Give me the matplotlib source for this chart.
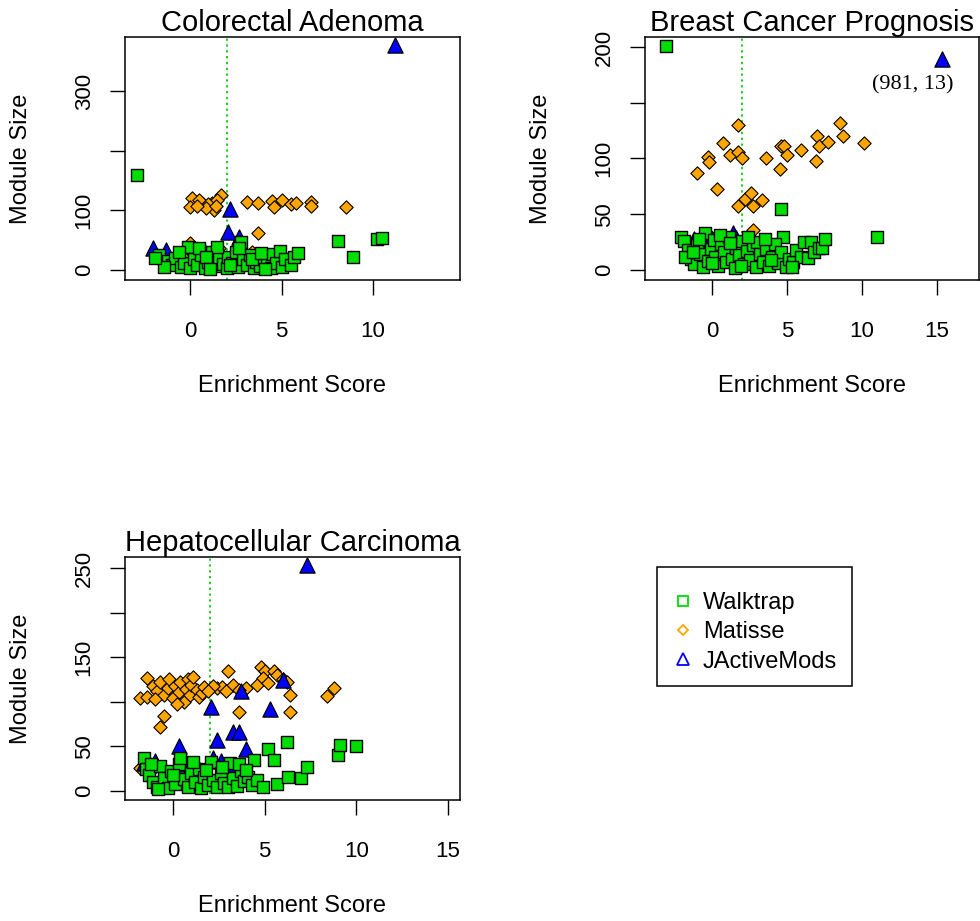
import matplotlib
matplotlib.use("Agg")
import matplotlib.pyplot as plt
from matplotlib.lines import Line2D
from matplotlib.patches import Rectangle

plt.rcParams['font.family'] = ['Liberation Sans', 'DejaVu Sans']

# ---- Colorectal Adenoma ----
ca_walk_x = [-2.9, 8.1, 8.9, 10.2, 10.5,
             -1.7, -1.2, -1.0, -0.8, -0.5, -0.3, -0.1, 0.0, 0.2, 0.4, 0.6, 0.8, 1.0, 1.2, 1.4,
             1.6, 1.8, 2.0, 2.1, 2.3, 2.5, 2.6, 2.8, 2.9, 3.1, 3.3, 3.5, 3.6, 3.8, 4.0, 4.2,
             4.4, 4.5, 4.7, 4.9, 5.0, 5.2, 5.5, 5.7, 5.9, -1.4, -0.6, 0.5, 1.5, 2.2, 2.7, 3.4,
             -1.9, 0.9, 4.1, 1.1, 3.9]
ca_walk_y = [159, 49, 22, 52, 54,
             25, 15, 8, 20, 5, 12, 39, 3, 18, 8, 25, 4, 14, 30, 6,
             20, 10, 3, 22, 12, 30, 5, 47, 18, 8, 25, 3, 14, 6, 20, 10,
             4, 26, 12, 32, 5, 18, 8, 22, 28, 5, 30, 36, 38, 8, 36, 18,
             20, 22, 2, 2, 28]
ca_mat_x = [0.1, 0.0, 0.65, 0.5, 1.2, 1.3, 1.7, 1.5, 1.0, 0.9, 3.1, 3.7, 4.5, 4.6, 5.0,
            5.5, 5.8, 6.6, 6.6, 8.5, 3.7, 0.0, 1.6, -0.3, 2.5, 3.4, 0.4, 1.4]
ca_mat_y = [121, 105, 112, 118, 112, 101, 126, 118, 110, 104, 114, 113, 115, 106, 118,
            110, 113, 114, 107, 106, 62, 45, 37, 20, 25, 30, 108, 108]
ca_jam_x = [11.2, 2.2, 2.1, 2.7, -2.0, -1.3, 0.8, 3.5, 4.6, 1.5, -0.5]
ca_jam_y = [377, 102, 64, 56, 37, 34, 30, 20, 15, 22, 15]

# ---- Breast Cancer Prognosis ----
bc_walk_x = [-3.1, 4.6, 4.7, 11.0,
             -2.1, -1.9, -1.6, -1.4, -1.2, -1.0, -0.8, -0.6, -0.5, -0.3, -0.1, 0.1, 0.2, 0.4,
             0.6, 0.8, 0.9, 1.1, 1.3, 1.5, 1.6, 1.8, 2.0, 2.1, 2.3, 2.5, 2.7, 2.9, 3.0, 3.2,
             3.4, 3.6, 3.8, 4.0, 4.2, 4.4, 4.6, 4.9, 5.1, 5.4, 5.6, 5.9, 6.1, 6.4, 6.6, 6.8,
             7.1, 7.3, 7.5, -1.8, -0.9, 0.5, 1.2, 2.4, 3.5, -1.3, 0.0, 1.9, 3.9, 5.3]
bc_walk_y = [201, 55, 30, 30,
             30, 26, 18, 10, 5, 22, 14, 3, 33, 8, 19, 27, 12, 4,
             23, 16, 7, 30, 10, 2, 20, 13, 26, 5, 17, 9, 22, 3, 25, 14,
             7, 19, 4, 12, 23, 6, 16, 3, 10, 7, 18, 12, 25, 11, 25, 16,
             20, 20, 28, 12, 28, 31, 24, 30, 28, 16, 6, 4, 9, 3]
bc_mat_x = [1.7, 0.7, -0.3, -0.2, -1.0, 0.3, 1.2, 1.7, 2.0, 3.6, 4.5, 4.6, 4.8, 5.0, 5.9,
            6.9, 7.0, 7.1, 7.7, 8.5, 8.7, 10.1, 1.7, 2.2, 2.6, 2.7, 3.3, 2.7,
            -1.4, -0.1, 0.2, 1.0]
bc_mat_y = [130, 114, 101, 97, 87, 73, 103, 106, 100, 100, 91, 111, 111, 103, 108,
            98, 120, 111, 115, 132, 120, 114, 57, 64, 69, 57, 63, 36,
            18, 30, 28, 25]
bc_jam_x = [15.3, -1.2, -0.1, 1.4, 1.6, -1.5, 0.8, 2.2, -0.5]
bc_jam_y = [189, 28, 29, 33, 29, 20, 24, 18, 15]
bc_note = "(981, 13)"

# ---- Hepatocellular Carcinoma ----
hc_walk_x = [-1.6, -1.5, -1.3, -1.1, -0.9, -0.7, -0.5, -0.3, -0.1, 0.1, 0.3, 0.4, 0.6, 0.8,
             1.0, 1.2, 1.4, 1.5, 1.7, 1.9, 2.1, 2.2, 2.4, 2.6, 2.8, 3.0, 3.1, 3.3, 3.5, 3.7,
             3.9, 4.1, 4.3, 4.4, 4.6, 4.9, 5.2, 5.5, 5.7, 6.2, 6.3, 7.0, 7.3, 9.0, 9.1, 10.0,
             -1.2, 0.0, 1.1, 2.7, 3.6, 4.0, -0.8, 1.8]
hc_walk_y = [37, 25, 18, 10, 5, 28, 15, 3, 22, 8, 30, 37, 14, 4,
             20, 10, 25, 3, 16, 7, 32, 12, 4, 20, 9, 4, 31, 15, 6, 22,
             11, 16, 7, 35, 12, 4, 47, 35, 8, 55, 16, 15, 27, 40, 52, 50,
             30, 18, 33, 27, 30, 24, 2, 23]
hc_mat_x = [-1.4, -1.8, -1.4, -0.5, -0.7, -1.1, -0.9, -0.7, -0.5, -0.3, -0.2, 0.0, 0.1, 0.3,
            0.4, 0.6, 0.7, 0.8, 0.9, 1.0, 1.1, 1.3, 1.4, -1.0, 0.2, 1.6, 1.7, 2.4, 2.7, 3.0,
            3.3, 4.0, 3.6, 4.6, 4.8, 5.0, 4.9, 5.5, 5.7, 6.0, 6.2, 6.4, 6.4, 8.4, 8.8, 2.2,
            3.6, 2.9, 5.2, 1.9, -1.8, -1.5, -1.3]
hc_mat_y = [127, 104, 105, 84, 72, 118, 112, 122, 108, 115, 125, 104, 118, 111,
            122, 100, 114, 126, 108, 119, 128, 113, 105, 103, 98, 110, 117, 115, 117, 135,
            119, 116, 89, 119, 139, 134, 127, 135, 130, 126, 122, 108, 89, 106, 116, 118,
            113, 112, 121, 112, 26, 35, 20]
hc_jam_x = [7.3, 2.1, 5.3, 6.0, 3.7, 3.3, 3.6, 2.4, 0.3, 4.0, -1.0, -1.6, 2.2, 2.6, 1.0,
            1.4, 3.2, -0.5, 0.6]
hc_jam_y = [253, 94, 92, 124, 112, 66, 66, 57, 50, 47, 34, 31, 37, 34, 27,
            25, 26, 22, 30]

GREEN = '#00dd00'
ORANGE = '#ffa500'
BLUE = '#0000ff'


def draw_panel(rect, title, walk, mat, jam, xlim, ylim, yticks, ylabels, xticks):
    ax = fig.add_axes(rect)
    ax.scatter(mat[0], mat[1], marker='D', s=46, c=ORANGE, edgecolors='black',
               linewidths=0.8, zorder=3)
    ax.scatter(jam[0], jam[1], marker='^', s=120, c=BLUE, edgecolors='black',
               linewidths=0.9, zorder=4)
    ax.scatter(walk[0], walk[1], marker='s', s=78, c=GREEN, edgecolors='black',
               linewidths=1.0, zorder=5)
    ax.axvline(2, color='#22cc22', linestyle=(0, (1.2, 1.8)), linewidth=1.4, zorder=2)
    ax.set_xlim(*xlim)
    ax.set_ylim(*ylim)
    ax.set_xticks(xticks)
    ax.set_xticklabels([str(t) for t in xticks])
    ax.set_yticks(yticks)
    ax.set_yticklabels(ylabels, rotation=90, va='center')
    ax.tick_params(axis='x', length=10.8, width=1.0, labelsize=16, pad=19)
    ax.tick_params(axis='y', length=10.8, width=1.0, labelsize=16, pad=11)
    for sp in ax.spines.values():
        sp.set_linewidth(1.1)
    ax.set_title(title, fontsize=21, pad=3)
    ax.set_xlabel('Enrichment Score', fontsize=17)
    ax.set_ylabel('Module Size', fontsize=17)
    ax.xaxis.set_label_coords(0.5, -0.39)
    ax.yaxis.set_label_coords(-0.278, 0.5)
    return ax


fig = plt.figure(figsize=(9.8, 9.21), dpi=100)

W, H = 980.0, 921.0
top_b = 1 - 280 / H
bot_b = 1 - 800 / H
ah = 243 / H

draw_panel([125 / W, top_b, 335 / W, ah], 'Colorectal Adenoma',
           (ca_walk_x, ca_walk_y), (ca_mat_x, ca_mat_y), (ca_jam_x, ca_jam_y),
           (-3.55, 14.75), (-16.8, 390.5), [0, 100, 200, 300], ['0', '100', '', '300'],
           [0, 5, 10])

ax2 = draw_panel([645 / W, top_b, 334 / W, ah], 'Breast Cancer Prognosis',
                 (bc_walk_x, bc_walk_y), (bc_mat_x, bc_mat_y), (bc_jam_x, bc_jam_y),
                 (-4.47, 17.8), (-9.0, 209.0), [0, 50, 100, 150, 200],
                 ['0', '50', '100', '', '200'], [0, 5, 10, 15])
ax2.text(13.4, 166, bc_note, fontsize=16, family=['Liberation Serif', 'DejaVu Serif'],
         ha='center', va='center')

draw_panel([125 / W, bot_b, 335 / W, ah], 'Hepatocellular Carcinoma',
           (hc_walk_x, hc_walk_y), (hc_mat_x, hc_mat_y), (hc_jam_x, hc_jam_y),
           (-2.62, 15.66), (-10.1, 262.3), [0, 50, 100, 150, 200, 250],
           ['0', '50', '', '150', '', '250'], [0, 5, 10, 15])

# legend box drawn on its own, entries placed inside it
fig.patches.append(Rectangle((657 / W, 1 - 686 / H), 195 / W, 119 / H,
                             transform=fig.transFigure, fill=False,
                             edgecolor='black', linewidth=1.1))
handles = [
    Line2D([], [], marker='s', linestyle='none', markersize=7, markerfacecolor='none',
           markeredgecolor=GREEN, markeredgewidth=1.3),
    Line2D([], [], marker='D', linestyle='none', markersize=5, markerfacecolor='none',
           markeredgecolor=ORANGE, markeredgewidth=1.3),
    Line2D([], [], marker='^', linestyle='none', markersize=8, markerfacecolor='none',
           markeredgecolor=BLUE, markeredgewidth=1.3),
]
fig.legend(handles, ['Walktrap', 'Matisse', 'JActiveMods'], loc='upper left',
           bbox_to_anchor=(657 / W, 1 - 573 / H), fontsize=17, frameon=False,
           borderpad=0.8, handlelength=0.6, handletextpad=0.55, labelspacing=0.31,
           borderaxespad=0)

fig.savefig('out.png', dpi=100)
